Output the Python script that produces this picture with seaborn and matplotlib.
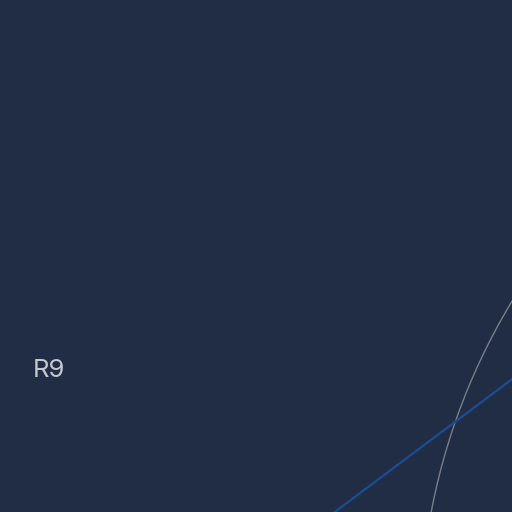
import numpy as np
import pandas as pd
import matplotlib
matplotlib.use("Agg")
import matplotlib.pyplot as plt
import seaborn as sns

# --- data ---
categories = ["R9"]
category_angle_deg = [165.52]
label_radius = [98.1]
series_angle_deg = [172.97, 149.95]
series_values = [71.8, 54.1]
ring_values = [60]
r_max = 100

BG = "#212d45"
sns.set_theme(style="white", rc={"axes.facecolor": BG, "figure.facecolor": BG})
plt.rcParams["font.family"] = ["Inter", "DejaVu Sans"]

fig = plt.figure(figsize=(5.12, 5.12), dpi=100)
fig.patch.set_facecolor(BG)

# polar axes whose centre lies outside the visible canvas (lower right)
cx, cy = 1057 / 512, (512 - 631) / 512
rad = 1061.7 / 512
ax = fig.add_axes([cx - rad, cy - rad, 2 * rad, 2 * rad], projection="polar")
ax.set_facecolor(BG)
ax.set_ylim(0, r_max)
ax.spines["polar"].set_visible(False)
ax.set_yticks(ring_values)
ax.set_yticklabels([])
ax.set_xticks([])
ax.grid(False)
ax.yaxis.grid(True, color="#7a7e86", linewidth=1.0)
ax.xaxis.grid(False)

df = pd.DataFrame({"theta": np.deg2rad(series_angle_deg), "r": series_values})
sns.lineplot(data=df, x="theta", y="r", ax=ax, color="#1c4b90", linewidth=1.7,
             sort=False, legend=False)
ax.set_xlabel("")
ax.set_ylabel("")
ax.set_ylim(0, r_max)

for cat, ang, lr in zip(categories, category_angle_deg, label_radius):
    ax.text(np.deg2rad(ang), lr, cat, ha="center", va="center", fontsize=18.5,
            color="#c3c7cf", clip_on=False)

fig.savefig("out.png", dpi=100, facecolor=BG)
